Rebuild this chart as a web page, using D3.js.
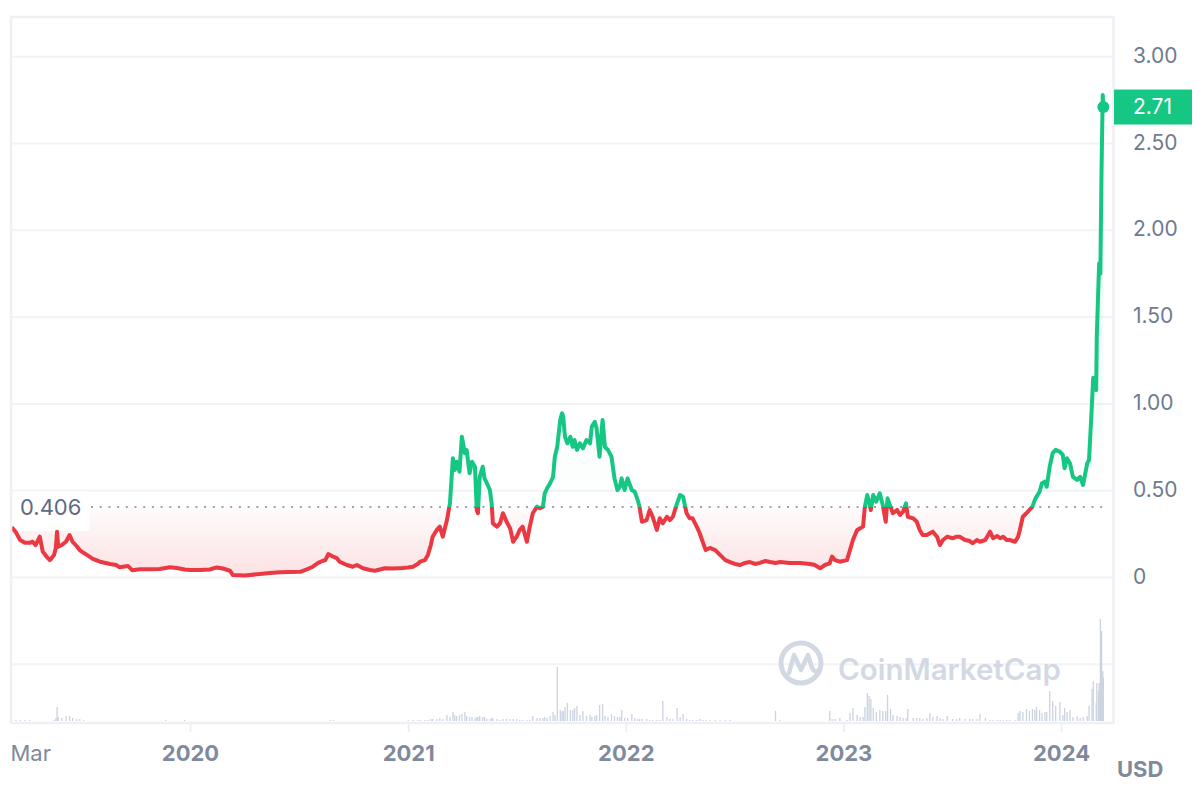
<!DOCTYPE html>
<html><head><meta charset="utf-8">
<script src="https://cdn.jsdelivr.net/npm/d3@7"></script>
<style>body{margin:0;background:#fff;} text{font-family:Inter,"Noto Sans",sans-serif;}</style>
</head><body><svg id="c" width="1204" height="790"></svg>
<script>
// ---------- DATA ----------
const dates = [
"2019-03-08","2019-03-15","2019-03-22","2019-03-30","2019-04-07","2019-04-12","2019-04-17","2019-04-24","2019-04-29","2019-05-06",
"2019-05-11","2019-05-18","2019-05-21","2019-05-23","2019-05-25","2019-05-31","2019-06-07","2019-06-13","2019-06-18","2019-06-25",
"2019-06-30","2019-07-07","2019-07-12","2019-07-22","2019-08-03","2019-08-20","2019-08-30","2019-09-05","2019-09-19","2019-09-26",
"2019-10-09","2019-10-26","2019-11-11","2019-11-21","2019-11-28","2019-12-10","2019-12-23",
"2020-01-01","2020-01-18","2020-02-03","2020-02-15","2020-02-25","2020-03-08","2020-03-13","2020-04-02","2020-04-27","2020-05-14",
"2020-05-31","2020-06-17","2020-07-04","2020-07-15","2020-07-25","2020-08-03","2020-08-10","2020-08-15","2020-08-20","2020-08-23",
"2020-08-28","2020-09-03","2020-09-08","2020-09-20","2020-09-30","2020-10-07","2020-10-17","2020-10-29","2020-11-06","2020-11-23",
"2020-12-06","2020-12-23",
"2021-01-01","2021-01-09","2021-01-17","2021-01-21","2021-01-29","2021-02-03","2021-02-08","2021-02-11","2021-02-18","2021-02-23",
"2021-02-28","2021-03-07","2021-03-12","2021-03-17","2021-03-20","2021-03-23","2021-03-28","2021-04-01","2021-04-06","2021-04-09",
"2021-04-14","2021-04-18","2021-04-23","2021-04-26","2021-04-28","2021-05-01","2021-05-06","2021-05-09","2021-05-13","2021-05-18",
"2021-05-21","2021-05-23","2021-05-30","2021-06-04","2021-06-09","2021-06-15","2021-06-21","2021-06-26","2021-07-02","2021-07-07",
"2021-07-12","2021-07-19","2021-07-24","2021-07-29","2021-08-05","2021-08-10","2021-08-15","2021-08-18","2021-08-22","2021-08-27",
"2021-09-01","2021-09-04","2021-09-08","2021-09-13","2021-09-16","2021-09-18","2021-09-21","2021-09-25","2021-09-30","2021-10-04",
"2021-10-07","2021-10-11","2021-10-16","2021-10-21","2021-10-27","2021-11-02","2021-11-05","2021-11-10","2021-11-13","2021-11-18",
"2021-11-23","2021-11-27","2021-12-02","2021-12-08","2021-12-13","2021-12-18","2021-12-22","2021-12-25","2021-12-30",
"2022-01-04","2022-01-11","2022-01-16","2022-01-21","2022-01-24","2022-01-28","2022-02-05","2022-02-10","2022-02-15","2022-02-22",
"2022-02-27","2022-03-04","2022-03-11","2022-03-16","2022-03-21","2022-03-28","2022-04-02","2022-04-07","2022-04-13","2022-04-18",
"2022-04-23","2022-04-30","2022-05-05","2022-05-10","2022-05-15","2022-05-22","2022-05-31","2022-06-08","2022-06-17","2022-06-25",
"2022-07-03","2022-07-12","2022-07-20","2022-07-28","2022-08-06","2022-08-14","2022-08-23","2022-08-31","2022-09-09","2022-09-17",
"2022-10-03","2022-10-20","2022-11-06","2022-11-14","2022-11-23","2022-12-01","2022-12-09","2022-12-13","2022-12-18","2022-12-26",
"2023-01-07","2023-01-12","2023-01-17","2023-01-24","2023-01-29","2023-02-03","2023-02-06","2023-02-10","2023-02-13","2023-02-16",
"2023-02-20","2023-02-25","2023-03-03","2023-03-08","2023-03-13","2023-03-16","2023-03-21","2023-03-25","2023-04-01","2023-04-06",
"2023-04-11","2023-04-16","2023-04-19","2023-04-28","2023-05-04","2023-05-09","2023-05-14","2023-05-21","2023-05-26","2023-05-31",
"2023-06-07","2023-06-12","2023-06-17","2023-06-24","2023-07-03","2023-07-10","2023-07-15","2023-07-24","2023-08-01","2023-08-06",
"2023-08-13","2023-08-18","2023-08-27","2023-09-04","2023-09-09","2023-09-16","2023-09-21","2023-09-26","2023-10-02","2023-10-07",
"2023-10-16","2023-10-21","2023-10-24","2023-10-29","2023-11-04","2023-11-09","2023-11-14","2023-11-18","2023-11-21","2023-11-26",
"2023-11-30","2023-12-05","2023-12-08","2023-12-13","2023-12-18","2023-12-23","2023-12-30",
"2024-01-04","2024-01-07","2024-01-11","2024-01-16","2024-01-21","2024-01-28","2024-02-02","2024-02-07","2024-02-14","2024-02-17",
"2024-02-22","2024-02-24","2024-02-29","2024-03-01","2024-03-04","2024-03-05","2024-03-07","2024-03-09","2024-03-11","2024-03-12"
];
const prices = [
.29,.26,.216,.20,.20,.206,.187,.235,.149,.118,
.10,.13,.17,.264,.177,.187,.206,.245,.206,.18,
.158,.141,.13,.107,.091,.078,.072,.059,.066,.042,
.047,.047,.049,.055,.059,.055,.046,
.043,.043,.046,.058,.052,.039,.014,.012,.02,.026,
.03,.032,.033,.047,.062,.084,.095,.10,.135,.13,
.12,.112,.091,.072,.062,.072,.053,.043,.039,.053,
.052,.055,
.058,.062,.078,.091,.10,.13,.187,.235,.274,.293,
.235,.331,.427,.687,.619,.667,.61,.811,.716,.735,
.60,.667,.638,.389,.37,.58,.638,.571,.543,.504,
.427,.312,.293,.312,.37,.321,.283,.206,.235,.274,
.293,.206,.293,.37,.408,.399,.408,.485,.514,.543,
.58,.696,.753,.907,.946,.926,.811,.773,.811,.753,
.792,.735,.773,.744,.792,.773,.869,.897,.859,.696,
.907,.753,.735,.696,.571,.504,.523,.571,.504,
.571,.504,.494,.446,.408,.321,.331,.389,.35,.274,
.341,.312,.35,.331,.35,.427,.475,.465,.37,.341,
.341,.293,.255,.205,.158,.17,.158,.13,.10,.089,
.078,.072,.084,.089,.078,.084,.095,.089,.084,.089,
.084,.084,.078,.072,.053,.072,.082,.12,.10,.091,
.10,.158,.216,.274,.283,.293,.408,.475,.437,.389,
.475,.437,.485,.418,.321,.456,.408,.37,.389,.36,
.379,.427,.35,.341,.321,.274,.245,.245,.255,.264,
.235,.187,.216,.235,.226,.235,.235,.216,.21,.197,
.216,.206,.216,.264,.226,.239,.226,.235,.216,.216,
.206,.235,.274,.35,.37,.389,.408,.446,.465,.494,
.543,.552,.523,.638,.716,.735,.725,
.706,.629,.687,.658,.58,.562,.58,.533,.658,.677,
1.005,1.15,1.08,1.385,1.71,1.81,1.75,2.35,2.78,2.71
];
// 24h volume, millions USD
const volumes = [
5,5,5,5,5,0,0,0,0,0,
0,5,15,70,20,15,25,25,15,10,
10,5,0,0,0,0,0,0,0,0,
0,0,0,5,0,0,5,
0,0,0,0,0,0,0,0,0,0,
0,0,0,0,0,0,0,0,0,5,
5,0,0,0,0,0,0,0,0,0,
0,0,
5,5,5,5,5,5,10,10,10,15,
10,30,20,45,30,25,30,35,45,25,
20,20,15,20,20,25,20,20,10,10,
15,15,10,5,10,10,10,10,10,5,
5,5,5,25,15,15,15,20,15,25,
45,30,270,55,50,50,70,90,55,55,
65,75,30,50,25,30,20,25,30,80,
85,25,20,35,25,20,20,55,15,
15,35,15,10,10,10,10,5,5,5,
5,100,20,10,10,65,20,35,10,5,
5,5,10,5,5,5,5,5,5,5,
0,0,0,0,0,0,0,0,50,5,
0,0,0,0,0,0,50,10,10,15,
5,40,65,30,20,20,70,140,125,110,
65,45,55,50,50,130,60,30,25,20,
15,15,60,15,15,15,10,15,40,20,
25,15,10,25,10,10,15,10,10,10,
10,35,15,5,5,5,5,5,5,5,
5,40,50,45,60,50,60,55,70,55,
40,45,45,150,100,75,95,
30,65,45,55,20,25,15,20,25,75,
160,200,90,190,150,190,510,450,250,215
];
const yTicks = [0, 0.5, 1, 1.5, 2, 2.5, 3];
const gridValues = [-0.5, 0, 0.5, 1, 1.5, 2, 2.5, 3];
const xTickDates = ["2019-03-01","2020-01-01","2021-01-01","2022-01-01","2023-01-01","2024-01-01"];
const xTickLabels = ["Mar","2020","2021","2022","2023","2024"];
const baselinePrice = 0.406;
const currentPrice = 2.71;
const currencyLabel = "USD";
const watermark = "CoinMarketCap";

// ---------- CHART ----------
const W = 1204, H = 790;
const plot = {left: 12, right: 1113, top: 18, bottom: 721};
const green = "#16c784", red = "#ea3943";
const parse = d3.utcParse("%Y-%m-%d");
const data = dates.map((d, i) => ({date: parse(d), price: prices[i], vol: volumes[i] || 0}));

const x = d3.scaleUtc().domain([parse("2020-01-01"), parse("2024-01-01")]).range([190, 1061]);
const y = d3.scaleLinear().domain([0, 3]).range([577.5, 56.7]);
const vh = d3.scaleLinear().domain([0, 510]).range([0, 102]);

const svg = d3.select("#c");
svg.append("rect").attr("width", W).attr("height", H).attr("fill", "#fff");
const defs = svg.append("defs");
const by = y(baselinePrice);
defs.append("clipPath").attr("id", "plotClip").append("rect")
  .attr("x", plot.left).attr("y", plot.top).attr("width", plot.right - plot.left).attr("height", plot.bottom - plot.top);
defs.append("clipPath").attr("id", "above").append("rect")
  .attr("x", plot.left).attr("y", plot.top).attr("width", plot.right - plot.left).attr("height", by - plot.top);
defs.append("clipPath").attr("id", "below").append("rect")
  .attr("x", plot.left).attr("y", by).attr("width", plot.right - plot.left).attr("height", plot.bottom - by);

const gG = defs.append("linearGradient").attr("id", "gGreen").attr("gradientUnits", "userSpaceOnUse")
  .attr("x1", 0).attr("x2", 0).attr("y1", y(3)).attr("y2", by);
gG.append("stop").attr("offset", 0).attr("stop-color", green).attr("stop-opacity", 0.16);
gG.append("stop").attr("offset", 1).attr("stop-color", green).attr("stop-opacity", 0.0);
const gR = defs.append("linearGradient").attr("id", "gRed").attr("gradientUnits", "userSpaceOnUse")
  .attr("x1", 0).attr("x2", 0).attr("y1", by).attr("y2", y(0));
gR.append("stop").attr("offset", 0).attr("stop-color", red).attr("stop-opacity", 0.02);
gR.append("stop").attr("offset", 1).attr("stop-color", red).attr("stop-opacity", 0.15);

// grid
svg.append("g").selectAll("line").data(gridValues).join("line")
  .attr("x1", plot.left).attr("x2", plot.right)
  .attr("y1", d => y(d)).attr("y2", d => y(d))
  .attr("stroke", "#f1f3f6").attr("stroke-width", 2);

// watermark
const wm = svg.append("g").attr("fill", "none").attr("stroke", "#d3d9e4");
wm.append("circle").attr("cx", 801).attr("cy", 663).attr("r", 20).attr("stroke-width", 5);
wm.append("path").attr("d", "M789,673 L794,655 L801,670 L808,655 L812,668 Q815,674 820,669")
  .attr("stroke-width", 4.5).attr("stroke-linejoin", "round").attr("stroke-linecap", "round");
svg.append("text").attr("x", 838).attr("y", 680).text(watermark)
  .attr("font-size", 29.5).attr("font-weight", 600).attr("fill", "#d3d9e4");

// volume bars
svg.append("g").attr("clip-path", "url(#plotClip)").selectAll("rect").data(data.filter(d => d.vol > 0)).join("rect")
  .attr("x", d => x(d.date) - 0.6).attr("width", 1.3)
  .attr("y", d => plot.bottom - vh(d.vol)).attr("height", d => vh(d.vol))
  .attr("fill", "#cbd3e1");

// areas
const area = d3.area().x(d => x(d.date)).y0(by).y1(d => y(d.price));
svg.append("path").datum(data).attr("d", area).attr("fill", "url(#gGreen)").attr("clip-path", "url(#above)");
svg.append("path").datum(data).attr("d", area).attr("fill", "url(#gRed)").attr("clip-path", "url(#below)");

// baseline label box + dotted line
svg.append("rect").attr("x", 12).attr("y", 491).attr("width", 78).attr("height", 40).attr("rx", 4).attr("fill", "#fff");
svg.append("line").attr("x1", 91).attr("x2", x(data[data.length - 1].date))
  .attr("y1", by).attr("y2", by).attr("stroke", "#9da4b0").attr("stroke-width", 2).attr("stroke-dasharray", "2 6.7");
svg.append("text").attr("x", 20).attr("y", by).attr("dy", "0.35em").text(baselinePrice)
  .attr("font-size", 22).attr("fill", "#5e6b80");

// line
const line = d3.line().x(d => x(d.date)).y(d => y(d.price));
svg.append("path").datum(data).attr("d", line).attr("fill", "none").attr("stroke", green)
  .attr("stroke-width", 4).attr("stroke-linejoin", "round").attr("clip-path", "url(#above)");
svg.append("path").datum(data).attr("d", line).attr("fill", "none").attr("stroke", red)
  .attr("stroke-width", 4).attr("stroke-linejoin", "round").attr("clip-path", "url(#below)");

// end dot
const last = data[data.length - 1];
svg.append("circle").attr("cx", x(last.date)).attr("cy", y(currentPrice)).attr("r", 6).attr("fill", green);

// frame
svg.append("rect").attr("x", 11).attr("y", 17).attr("width", 1102.5).attr("height", 706)
  .attr("fill", "none").attr("stroke", "#eef0f4").attr("stroke-width", 2.5);

// y axis
const yAxis = svg.append("g").attr("transform", "translate(1133,0)")
  .call(d3.axisRight(y).tickValues(yTicks).tickSize(0).tickPadding(0)
    .tickFormat(d => d === 0 ? "0" : d3.format(".2f")(d)));
yAxis.select(".domain").remove();
yAxis.selectAll("text").attr("font-size", 21).attr("fill", "#6f7b8f").attr("font-family", "Inter")
  .attr("dy", "0.27em");

// current price label
svg.append("rect").attr("x", 1114).attr("y", y(currentPrice) - 17.5).attr("width", 78).attr("height", 35).attr("fill", green);
svg.append("text").attr("x", 1133).attr("y", y(currentPrice)).attr("dy", "0.35em").text(currentPrice.toFixed(2))
  .attr("font-size", 21).attr("fill", "#fff");

// x axis
const xAxis = svg.append("g").attr("transform", `translate(0,${plot.bottom + 2})`)
  .call(d3.axisBottom(x).tickValues(xTickDates.map(parse)).tickSize(9).tickPadding(13)
    .tickFormat((d, i) => xTickLabels[i]));
xAxis.select(".domain").remove();
xAxis.selectAll(".tick line").attr("stroke", "#eef0f4").attr("stroke-width", 2);
xAxis.selectAll("text").attr("font-size", 22).attr("font-weight", 700).attr("fill", "#808a9d").attr("font-family", "Inter");
xAxis.selectAll(".tick").filter((d, i) => i === 0).each(function(d) {
  const g = d3.select(this);
  g.select("line").remove();
  g.select("text").attr("text-anchor", "start").attr("font-weight", 400).attr("x", 10 - x(d));
});

svg.append("text").attr("x", 1117).attr("y", 777).text(currencyLabel)
  .attr("font-size", 22).attr("font-weight", 700).attr("fill", "#808a9d");
</script>
</body></html>
